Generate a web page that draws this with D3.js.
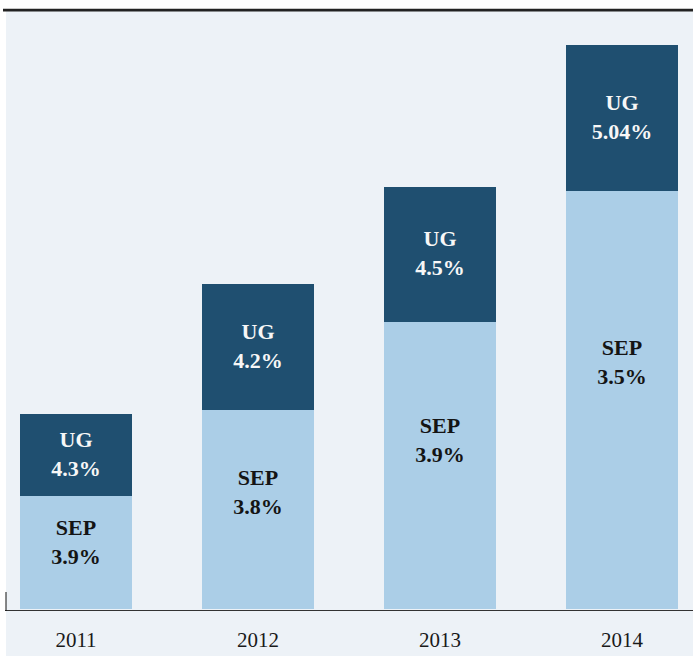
<!DOCTYPE html>
<html>
<head>
<meta charset="utf-8">
<script src="https://cdn.jsdelivr.net/npm/d3@7/dist/d3.min.js"></script>
<style>
  html, body { margin: 0; padding: 0; background: #ffffff; }
  svg { display: block; }
</style>
</head>
<body>
<svg id="chart" width="693" height="656"></svg>
<script>
// Enrolment by year, stacked: SEP at the base, UG on top
const years = ["2011", "2012", "2013", "2014"];
const sepCount = [113, 199, 287, 418];
const ugCount = [82, 126, 135, 146];
const sepRate = ["3.9%", "3.8%", "3.9%", "3.5%"];
const ugRate = ["4.3%", "4.2%", "4.5%", "5.04%"];

const W = 693, H = 656;
const svg = d3.select("#chart");

const colors = { SEP: "#abcee7", UG: "#1f4f70", panel: "#edf2f7" };

// panel background
svg.append("rect")
  .attr("x", 6).attr("y", 11).attr("width", W - 6).attr("height", H - 11)
  .attr("fill", colors.panel);

// top rule
svg.append("line")
  .attr("x1", 3).attr("x2", W).attr("y1", 8.5).attr("y2", 8.5)
  .attr("stroke", "#c8c8c8").attr("stroke-width", 1);
svg.append("line")
  .attr("x1", 3).attr("x2", W).attr("y1", 10.2).attr("y2", 10.2)
  .attr("stroke", "#222222").attr("stroke-width", 2.4);

const x = d3.scaleBand()
  .domain(years)
  .range([20, 678])
  .paddingInner(70 / 182)
  .paddingOuter(0);

const y = d3.scaleLinear()
  .domain([0, 600])
  .range([609, 9]);

const rows = years.map((yr, i) => ({
  year: yr,
  sep: sepCount[i],
  ug: ugCount[i],
  sepRate: sepRate[i],
  ugRate: ugRate[i]
}));

const stack = d3.stack().keys(["sep", "ug"]);
const series = stack(rows);
const keyName = { sep: "SEP", ug: "UG" };

const layers = svg.append("g").selectAll("g")
  .data(series)
  .join("g")
  .attr("fill", d => colors[keyName[d.key]]);

layers.selectAll("rect")
  .data(d => d.map(s => ({ s, key: d.key })))
  .join("rect")
  .attr("x", d => x(d.s.data.year))
  .attr("width", x.bandwidth())
  .attr("y", d => y(d.s[1]))
  .attr("height", d => y(d.s[0]) - y(d.s[1]));

// segment labels
const labelPos = { sep: 0.41, ug: 0.49 };
const lineGap = 29;
series.forEach(layer => {
  layer.forEach(s => {
    const top = y(s[1]), bottom = y(s[0]);
    const cy = top + (bottom - top) * labelPos[layer.key];
    const cx = x(s.data.year) + x.bandwidth() / 2;
    const t = svg.append("text")
      .attr("text-anchor", "middle")
      .attr("font-family", "'Liberation Serif', 'Times New Roman', serif")
      .attr("font-weight", "bold")
      .attr("font-size", 22)
      .attr("fill", layer.key === "ug" ? "#f7f7f7" : "#141414");
    t.append("tspan").attr("x", cx).attr("y", cy - 7).text(keyName[layer.key]);
    t.append("tspan").attr("x", cx).attr("y", cy - 7 + lineGap)
      .text(layer.key === "ug" ? s.data.ugRate : s.data.sepRate);
  });
});

// x axis
const xAxis = d3.axisBottom(x).tickSize(0).tickPadding(0);
const gx = svg.append("g").attr("transform", "translate(0,610)").call(xAxis);
gx.select(".domain").remove();
gx.selectAll("text")
  .attr("y", 37)
  .attr("dy", 0)
  .attr("font-family", "'Liberation Serif', 'Times New Roman', serif")
  .attr("font-size", 21)
  .attr("fill", "#1a1a1a");

svg.append("line")
  .attr("x1", 5).attr("x2", W).attr("y1", 610.5).attr("y2", 610.5)
  .attr("stroke", "#333333").attr("stroke-width", 1);
svg.append("line")
  .attr("x1", 6).attr("x2", 6).attr("y1", 592).attr("y2", 611)
  .attr("stroke", "#111111").attr("stroke-width", 1);
</script>
</body>
</html>
